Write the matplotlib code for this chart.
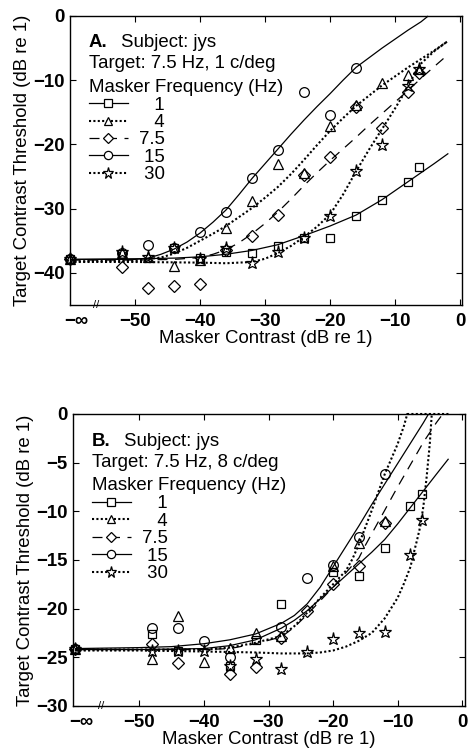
import matplotlib
matplotlib.use('Agg')
import matplotlib.pyplot as plt
from matplotlib.lines import Line2D
from matplotlib.ticker import FixedLocator

plt.rcParams['font.family'] = ['Liberation Sans', 'DejaVu Sans']
plt.rcParams['axes.unicode_minus'] = True

FS = 13.4

# ---------------- Panel A data (target 7.5 Hz, 1 c/deg) ----------------
# x = masker contrast (dB re 1); -60 stands for -infinity
a1_x = [-60, -52, -44, -40, -36, -32, -28, -24, -20, -16, -12, -8, -6.3]
a1_y = [-37.9, -37.0, -36.2, -37.7, -36.8, -36.9, -35.8, -34.6, -34.5, -31.2, -28.6, -25.9, -23.5]
a4_x = [-60, -52, -48, -44, -40, -36, -32, -28, -24, -20, -16, -12, -8, -6.3]
a4_y = [-37.9, -36.9, -37.5, -38.9, -38.0, -33.0, -28.8, -23.1, -24.5, -17.1, -13.9, -10.5, -9.2, -8.2]
a7_x = [-60, -52, -48, -44, -40, -36, -32, -28, -24, -20, -16, -12, -8, -6.3]
a7_y = [-37.9, -39.1, -42.3, -42.1, -41.7, -36.4, -34.3, -31.0, -24.7, -21.9, -14.1, -17.5, -11.8, -8.9]
a15_x = [-60, -52, -48, -44, -40, -36, -32, -28, -24, -20, -16]
a15_y = [-37.9, -36.9, -35.6, -36.2, -33.6, -30.5, -25.2, -20.9, -11.9, -15.4, -8.1]
a30_x = [-60, -52, -48, -44, -40, -36, -32, -28, -24, -20, -16, -12, -8, -6.3]
a30_y = [-37.9, -36.8, -37.6, -36.2, -37.8, -36.2, -38.4, -36.7, -34.6, -31.2, -24.2, -20.1, -10.9, -8.3]

# model curves, panel A
ca1_x = [-60, -50, -44, -40, -36, -32, -28, -24, -20, -16, -12, -8, -4, -1.8]
ca1_y = [-37.9, -37.8, -37.7, -37.5, -37.1, -36.5, -35.6, -34.2, -32.7, -31.0, -28.6, -25.8, -23.0, -21.4]
ca4_x = [-60, -50, -46, -44, -42, -40, -38, -36, -34, -32, -30, -28, -26, -24, -22, -20,
         -18, -16, -14, -12, -10, -8, -6, -4, -2]
ca4_y = [-38.2, -38.1, -37.6, -37.0, -36.1, -35.0, -33.9, -32.7, -31.3, -29.9, -28.3, -26.6,
         -24.6, -22.4, -20.1, -17.9, -15.9, -14.0, -12.4, -10.8, -9.4, -8.0, -6.7, -5.4, -4.0]
ca7_x = [-60, -50, -44, -40, -38, -36, -34, -32, -30, -28, -26, -24, -22, -20, -18, -16,
         -14, -12, -10, -8, -6, -4, -2.3]
ca7_y = [-38.0, -38.0, -37.9, -37.6, -37.1, -36.4, -35.3, -33.9, -32.3, -30.5, -28.5, -26.4,
         -24.4, -22.5, -20.7, -18.9, -17.0, -15.2, -13.4, -11.6, -9.7, -7.9, -6.4]
ca15_x = [-60, -50, -48, -46, -44, -42, -40, -38, -36, -34, -32, -30, -28, -26, -24, -22,
          -20, -18, -16, -14, -12, -10, -8, -6, -4.9]
ca15_y = [-37.9, -37.9, -37.7, -37.1, -36.3, -35.2, -33.8, -32.1, -30.2, -27.8, -25.3, -23.0,
          -20.7, -18.4, -16.2, -14.1, -12.1, -10.0, -8.0, -6.5, -5.0, -3.6, -2.2, -0.9, 0.0]
ca30_x = [-60, -50, -40, -36, -32, -30, -28, -26, -24, -22, -20, -18, -16, -14, -12, -10,
          -8, -7, -6, -4, -2]
ca30_y = [-38.3, -38.3, -38.4, -38.5, -38.3, -37.8, -36.9, -35.8, -34.4, -32.8, -30.9, -27.8,
          -24.2, -20.8, -17.6, -14.4, -11.0, -9.0, -7.4, -5.5, -4.0]

# ---------------- Panel B data (target 7.5 Hz, 8 c/deg) ----------------
b1_x = [-60, -48, -44, -36, -32, -28, -20, -16, -12, -8, -6.2]
b1_y = [-24.1, -22.6, -24.3, -25.9, -23.2, -19.5, -16.2, -16.6, -13.8, -9.5, -8.2]
b4_x = [-60, -48, -44, -40, -36, -32, -28, -20, -16, -12]
b4_y = [-24.1, -25.2, -20.8, -25.5, -24.0, -22.5, -22.8, -15.6, -13.3, -11.0]
b7_x = [-60, -48, -44, -36, -32, -28, -24, -20, -16, -12]
b7_y = [-24.1, -23.6, -25.6, -26.7, -26.0, -23.0, -20.2, -17.5, -15.6, -11.2]
b15_x = [-60, -48, -44, -40, -36, -28, -24, -20, -16, -12]
b15_y = [-24.1, -22.0, -22.0, -23.3, -25.0, -21.9, -16.9, -15.5, -12.6, -6.2]
b30_x = [-60, -48, -44, -40, -36, -32, -28, -24, -20, -16, -12, -8, -6.2]
b30_y = [-24.1, -24.3, -24.3, -24.3, -25.9, -25.2, -26.2, -24.5, -23.1, -22.5, -22.4, -14.5, -10.9]

cb1_x = [-60, -50, -40, -36, -32, -28, -26, -24, -22, -20, -18, -16, -14, -12, -10, -8, -6, -4, -2.1]
cb1_y = [-24.2, -24.2, -24.1, -23.8, -23.2, -22.0, -21.2, -20.2, -19.0, -17.8, -16.6, -15.4,
         -14.2, -12.9, -11.3, -9.6, -7.9, -6.2, -4.6]
cb4_x = [-60, -50, -40, -36, -32, -28, -26, -24, -22, -20, -18, -17, -16, -14, -12, -10, -9, -8.5, -1.8]
cb4_y = [-24.2, -24.2, -24.2, -24.0, -23.5, -22.8, -21.8, -20.4, -18.9, -17.5, -16.1, -14.9,
         -13.4, -9.9, -6.2, -3.1, -1.2, 0.0, 0.0]
cb7_x = [-60, -50, -40, -36, -32, -28, -26, -24, -22, -20, -18, -16, -15, -14, -12, -10, -8, -6, -4, -3.1]
cb7_y = [-24.2, -24.2, -24.2, -24.1, -23.6, -22.9, -21.9, -20.6, -19.2, -17.8, -16.3, -14.8,
         -13.5, -12.3, -9.9, -7.5, -5.2, -2.9, -0.9, -0.1]
cb15_x = [-60, -50, -45, -40, -36, -32, -28, -26, -24, -22, -20, -18, -16, -14, -12, -10, -8, -6, -5.2]
cb15_y = [-24.1, -24.0, -23.9, -23.6, -23.2, -22.6, -21.5, -20.7, -19.5, -17.8, -15.7, -13.6,
          -11.5, -9.3, -7.2, -5.1, -3.0, -0.9, 0.0]
cb30_x = [-60, -50, -40, -32, -28, -24, -22, -20, -18, -16, -14, -12, -10, -9, -8, -7.5, -7,
          -6.5, -6, -5.5, -5, -4.7]
cb30_y = [-24.3, -24.3, -24.4, -24.5, -24.6, -24.6, -24.5, -24.3, -23.9, -23.3, -22.5, -21.0,
          -18.9, -17.4, -15.7, -14.3, -13.0, -11.6, -9.5, -6.5, -3.0, 0.0]

legend_labels = ['   1', '   4', '7.5', ' 15', ' 30']
x_ticks = [-59, -50, -40, -30, -20, -10, 0]
x_ticklabels = ['\u2212\u221e', '\u221250', '\u221240', '\u221230', '\u221220', '\u221210', '0']

# styles for 1, 4, 7.5, 15, 30 Hz
DOT = (0, (1.0, 1.1))
DASH = (0, (8, 6))
styles = [
    dict(ls='-', lw=0.9, marker='s', ms=6.0),
    dict(ls=DOT, lw=1.5, marker='^', ms=7.5),
    dict(ls=DASH, lw=0.9, marker='D', ms=5.8),
    dict(ls='-', lw=0.9, marker='o', ms=7.0),
    dict(ls=DOT, lw=1.5, marker='*', ms=9.5),
]


def draw_panel(ax, pts, curves, letter, target, ylim, yticks, xlim):
    for (cx, cy), st in zip(curves, styles):
        ax.plot(cx, cy, color='black', ls=st['ls'], lw=st['lw'], zorder=2,
                solid_capstyle='butt', clip_on=False)
    for (px, py), st in zip(pts, styles):
        ax.plot(px, py, ls='none', marker=st['marker'], ms=st['ms'], mfc='none',
                mec='black', mew=0.9, zorder=3, clip_on=False)
    ax.set_xlim(*xlim)
    ax.set_ylim(*ylim)
    ax.xaxis.set_major_locator(FixedLocator(x_ticks))
    ax.set_xticklabels(x_ticklabels, fontweight='bold', fontsize=FS)
    ax.set_yticks(yticks)
    ax.set_yticklabels([('\u2212%g' % -v) if v < 0 else '0' for v in yticks],
                       fontweight='bold', fontsize=FS)
    ax.tick_params(direction='in', length=4, width=0.8, top=True, right=True)
    ax.tick_params(axis='x', pad=6)
    ax.tick_params(axis='y', pad=4)
    t0 = ax.xaxis.get_major_ticks()[0]
    t0.tick1line.set_visible(False)
    t0.tick2line.set_visible(False)
    for sp in ax.spines.values():
        sp.set_linewidth(1.0)
    ax.set_xlabel('Masker Contrast (dB re 1)', fontsize=FS, labelpad=0)
    ax.set_ylabel('Target Contrast Threshold (dB re 1)', fontsize=FS, labelpad=1)
    # axis break mark
    ax.text(-56, 0, '//', transform=ax.get_xaxis_transform(), ha='center', va='center',
            fontsize=8, color='black')
    # header text
    ax.text(0.048, 0.907, letter, transform=ax.transAxes, fontsize=FS, fontweight='bold',
            ha='left', va='center')
    ax.text(0.130, 0.907, 'Subject: jys', transform=ax.transAxes, fontsize=FS,
            ha='left', va='center')
    ax.text(0.048, 0.834, target, transform=ax.transAxes, fontsize=FS, ha='left', va='center')
    ax.text(0.048, 0.754, 'Masker Frequency (Hz)', transform=ax.transAxes, fontsize=FS,
            ha='left', va='center')
    handles = [Line2D([], [], color='black', ls=st['ls'], lw=st['lw'], marker=st['marker'],
                      ms=st['ms'] * 0.85, mfc='white', mec='black', mew=0.9)
               for st in styles]
    ax.legend(handles, legend_labels, loc='upper left', bbox_to_anchor=(0.048, 0.721),
              frameon=False, fontsize=FS, handlelength=2.1, handletextpad=0.6,
              labelspacing=0.02, borderpad=0, borderaxespad=0, handleheight=0.7)


fig = plt.figure(figsize=(4.7, 7.48), dpi=100)
axA = fig.add_axes([70 / 470, 1 - 305 / 748, 392 / 470, 289 / 748])
axB = fig.add_axes([73 / 470, 1 - 706 / 748, 392 / 470, 292 / 748])

draw_panel(axA,
           [(a1_x, a1_y), (a4_x, a4_y), (a7_x, a7_y), (a15_x, a15_y), (a30_x, a30_y)],
           [(ca1_x, ca1_y), (ca4_x, ca4_y), (ca7_x, ca7_y), (ca15_x, ca15_y), (ca30_x, ca30_y)],
           'A.', 'Target: 7.5 Hz, 1 c/deg', (-45, 0), [0, -10, -20, -30, -40], (-60, 0.3))
draw_panel(axB,
           [(b1_x, b1_y), (b4_x, b4_y), (b7_x, b7_y), (b15_x, b15_y), (b30_x, b30_y)],
           [(cb1_x, cb1_y), (cb4_x, cb4_y), (cb7_x, cb7_y), (cb15_x, cb15_y), (cb30_x, cb30_y)],
           'B.', 'Target: 7.5 Hz, 8 c/deg', (-30, 0), [0, -5, -10, -15, -20, -25, -30],
           (-60.3, 0.45))

fig.savefig('out.png', dpi=100)
